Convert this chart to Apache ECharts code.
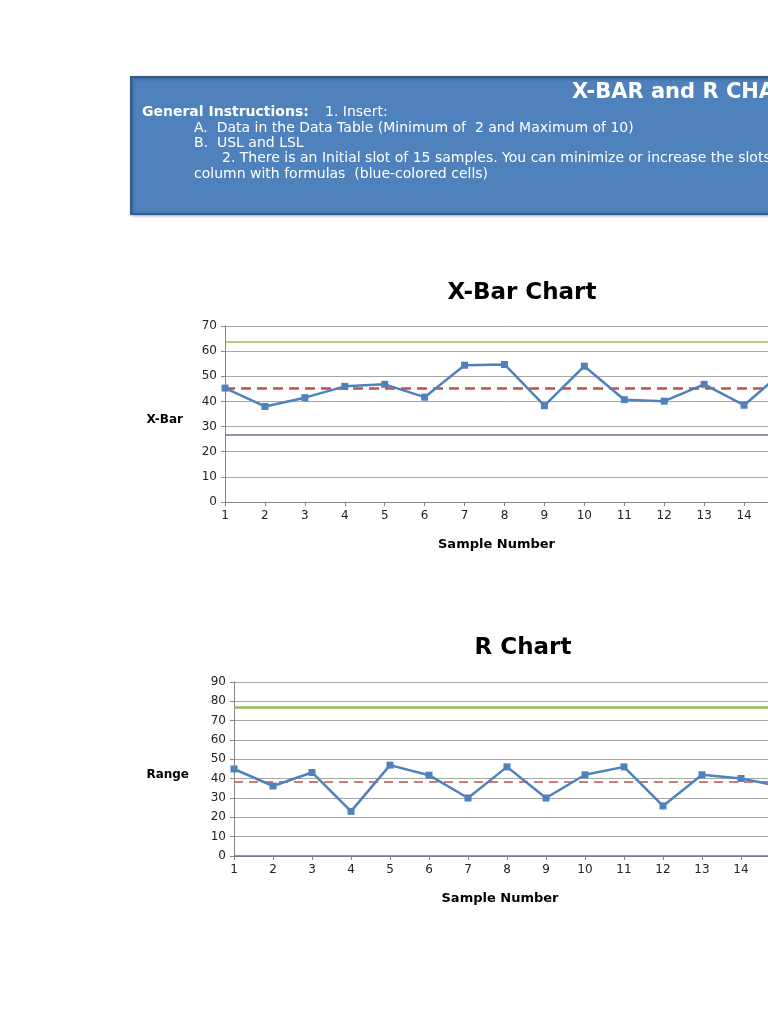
<!DOCTYPE html>
<html>
<head>
    <meta charset="UTF-8">
    <title>X-BAR and R Chart</title>
    <script src="https://cdn.jsdelivr.net/npm/echarts/dist/echarts.min.js"></script>
    <style>
        html, body { margin: 0; padding: 0; overflow: hidden; background: #fff; }
    </style>
</head>
<body>
    <!-- chart is wider than the window, the right side gets cut off like the sheet -->
    <div id="main" style="width: 830px;height:1024px;"></div>
    <script type="text/javascript">
        var myChart = echarts.init(document.getElementById('main'));

        // sample numbers
        var categories = ['1', '2', '3', '4', '5', '6', '7', '8', '9', '10', '11', '12', '13', '14', '15'];

        // X-Bar values
        var xbarData = [45.3, 38.0, 41.5, 46.0, 46.8, 41.7, 54.4, 54.7, 38.3, 54.0, 40.7, 40.1, 46.8, 38.5, 52.2];
        var xbarUCL = 63.7, xbarMean = 45.2, xbarLCL = 26.8;

        // R values
        var rangeData = [45, 36.2, 43.2, 23.1, 47, 41.8, 30, 46.1, 30, 42, 46.1, 25.9, 42, 40.1, 36.1];
        var rangeUCL = 76.8, rangeMean = 38.2, rangeLCL = 0;

        var font = 'DejaVu Sans';
        var gridColor = '#a6a6a6';

        function xAxisFor(gridIndex, shift) {
            return {
                type: 'category',
                gridIndex: gridIndex,
                data: categories,
                boundaryGap: false,
                name: 'Sample Number',
                nameLocation: 'middle',
                nameGap: 36,
                // pull the title a bit to the left, it is centred on the visible part
                nameTextStyle: { fontFamily: font, fontWeight: 'bold', fontSize: 13, color: '#000', padding: [0, shift, 0, 0] },
                axisLine: { lineStyle: { color: '#868686', width: 1 } },
                axisTick: { show: true, length: 4, lineStyle: { color: '#868686' } },
                axisLabel: { fontFamily: font, fontSize: 12, color: '#222', margin: 8 },
                splitLine: { show: false }
            };
        }

        function yAxisFor(gridIndex, max, name, gap) {
            return {
                type: 'value',
                gridIndex: gridIndex,
                min: 0,
                max: max,
                interval: 10,
                name: name,
                nameLocation: 'middle',
                nameRotate: 0,
                nameGap: gap,
                // name sits a little below the middle of the axis
                nameTextStyle: { fontFamily: font, fontWeight: 'bold', fontSize: 12, color: '#000', verticalAlign: 'top' },
                axisLine: { show: true, lineStyle: { color: '#868686', width: 1 } },
                axisTick: { show: true, length: 4, lineStyle: { color: '#868686' } },
                axisLabel: { fontFamily: font, fontSize: 12, color: '#222', margin: 8 },
                splitLine: { lineStyle: { color: gridColor, width: 1 } }
            };
        }

        function controlLines(ucl, mean, lcl, uclWidth, meanWidth, dash) {
            return {
                silent: true,
                symbol: 'none',
                label: { show: false },
                data: [
                    { yAxis: ucl, lineStyle: { color: '#9bbb59', width: uclWidth, type: 'solid' } },
                    { yAxis: mean, lineStyle: { color: '#c0504d', width: meanWidth, type: dash } },
                    { yAxis: lcl, lineStyle: { color: '#8064a2', width: 1.5, type: 'solid' } }
                ]
            };
        }

        var headerText = { fill: '#fff', fontFamily: font, fontSize: 14 };
        var chartTitle = { fill: '#000', fontFamily: font, fontSize: 23, fontWeight: 'bold', align: 'center', verticalAlign: 'middle' };

        var option = {
            animation: false,
            grid: [
                { left: 225, top: 326, height: 176, right: 46 },
                { left: 234, top: 682, height: 174, right: 50 }
            ],
            xAxis: [xAxisFor(0, 16), xAxisFor(1, 14)],
            yAxis: [yAxisFor(0, 70, 'X-Bar', 42), yAxisFor(1, 90, 'Range', 45)],
            series: [
                {
                    name: 'X-Bar',
                    type: 'line',
                    xAxisIndex: 0,
                    yAxisIndex: 0,
                    data: xbarData,
                    z: 5,
                    symbol: 'rect',
                    symbolSize: 7,
                    itemStyle: { color: '#4f81bd' },
                    lineStyle: { color: '#4f81bd', width: 2.5 },
                    markLine: controlLines(xbarUCL, xbarMean, xbarLCL, 1.5, 2.5, [10, 6])
                },
                {
                    name: 'Range',
                    type: 'line',
                    xAxisIndex: 1,
                    yAxisIndex: 1,
                    data: rangeData,
                    z: 5,
                    symbol: 'rect',
                    symbolSize: 7,
                    itemStyle: { color: '#4f81bd' },
                    lineStyle: { color: '#4f81bd', width: 2.5 },
                    markLine: controlLines(rangeUCL, rangeMean, rangeLCL, 2.5, 1.5, [9, 6])
                }
            ],
            graphic: [
                {
                    type: 'rect',
                    shape: { x: 131, y: 77, width: 760, height: 137 },
                    style: { fill: '#4f81bd', stroke: '#385d8a', lineWidth: 2,
                             shadowBlur: 3, shadowColor: 'rgba(0,0,0,0.3)', shadowOffsetX: 1, shadowOffsetY: 1 }
                },
                { type: 'text', left: 572, top: 82,
                  style: { text: 'X-BAR and R CHART', fill: '#fff', fontFamily: font, fontSize: 21, fontWeight: 'bold' } },
                { type: 'text', left: 142, top: 105,
                  style: { text: 'General Instructions:', fill: '#fff', fontFamily: font, fontSize: 14, fontWeight: 'bold' } },
                { type: 'text', left: 325, top: 105, style: Object.assign({ text: '1. Insert:' }, headerText) },
                { type: 'text', left: 194, top: 121,
                  style: Object.assign({ text: 'A.  Data in the Data Table (Minimum of  2 and Maximum of 10)' }, headerText) },
                { type: 'text', left: 194, top: 136, style: Object.assign({ text: 'B.  USL and LSL' }, headerText) },
                { type: 'text', left: 222, top: 151,
                  style: Object.assign({ text: '2. There is an Initial slot of 15 samples. You can minimize or increase the slots' }, headerText) },
                { type: 'text', left: 194, top: 167,
                  style: Object.assign({ text: 'column with formulas  (blue-colored cells)' }, headerText) },
                { type: 'text', x: 522, y: 293, style: Object.assign({ text: 'X-Bar Chart' }, chartTitle) },
                { type: 'text', x: 523, y: 648, style: Object.assign({ text: 'R Chart' }, chartTitle) }
            ]
        };

        myChart.setOption(option);
    </script>
</body>
</html>
